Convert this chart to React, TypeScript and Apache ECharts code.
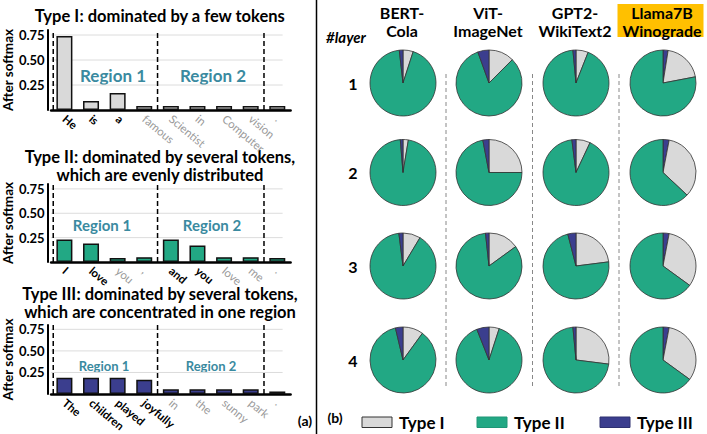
import React, { useEffect, useRef } from 'react';
import * as echarts from 'echarts';

const FONT = 'Lato, "Open Sans", sans-serif';

// ---------- Panel (a): attention distribution examples ----------
const tokens1 = ['He', 'is', 'a', 'famous', 'Scientist', 'in', 'Computer', 'vision', '.'];
const values1 = [0.74, 0.09, 0.17, 0.04, 0.04, 0.04, 0.04, 0.04, 0.04];
const dominant1 = [true, true, true, false, false, false, false, false, false];

const tokens2 = ['I', 'love', 'you', ',', 'and', 'you', 'love', 'me', '.'];
const values2 = [0.23, 0.19, 0.04, 0.05, 0.23, 0.17, 0.05, 0.05, 0.04];
const dominant2 = [true, true, false, false, true, true, false, false, false];

const tokens3 = ['The', 'children', 'played', 'joyfully', 'in', 'the', 'sunny', 'park', '.'];
const values3 = [0.19, 0.19, 0.19, 0.165, 0.055, 0.055, 0.055, 0.055, 0.03];
const dominant3 = [true, true, true, true, false, false, false, false, false];

const yTicks = [0.25, 0.5, 0.75];
const regionBoundaries = [-0.42, 3.5, 7.5];
const regionNames = ['Region 1', 'Region 2'];

const titleTypes = ['Type I', 'Type II', 'Type III'];
const titleRest = [
  ': dominated by a few tokens',
  ': dominated by several tokens,\nwhich are evenly distributed',
  ': dominated by several tokens,\nwhich are concentrated in one region',
];

// ---------- Panel (b): share of each type per layer ----------
const models = ['BERT-\nCola', 'ViT-\nImageNet', 'GPT2-\nWikiText2', 'Llama7B\nWinograde'];
const layers = ['1', '2', '3', '4'];
const typeNames = ['Type I', 'Type II', 'Type III'];

// values in % per layer 1..4
const bertTypeI = [5, 2.6, 8.6, 10];
const bertTypeII = [93.2, 96.1, 89.4, 86.3];
const bertTypeIII = [1.8, 1.3, 2, 3.7];

const vitTypeI = [12.5, 25, 15, 5];
const vitTypeII = [82, 72, 83.3, 89];
const vitTypeIII = [5.5, 3, 1.7, 6];

const gptTypeI = [6, 7, 23, 27];
const gptTypeII = [92.5, 91, 73, 71.5];
const gptTypeIII = [1.5, 2, 4, 1.5];

const llamaTypeI = [19.5, 34, 32, 32];
const llamaTypeII = [78, 63, 65, 65];
const llamaTypeIII = [2.5, 3, 3, 3];

const modelData = [
  [bertTypeI, bertTypeII, bertTypeIII],
  [vitTypeI, vitTypeII, vitTypeIII],
  [gptTypeI, gptTypeII, gptTypeIII],
  [llamaTypeI, llamaTypeII, llamaTypeIII],
];

// ---------- styles / layout ----------
const typeColors = ['#D9D9D9', '#22A884', '#3B3E8E'];
const typeBorders = ['#333333', '#1E9676', '#2E3170'];
const sliceOrder = [[0, 1, 2], [0, 1, 2], [0, 1, 2], [2, 0, 1]];

const gridTops = [30, 184, 325];
const gridHeights = [80, 78, 77];
const gridLeft = 49.6;
const gridWidth = 241;
const regionFont = [17, 15, 13];
const regionPos = [
  [[113, 75], [213, 75]],
  [[102, 225], [212, 225]],
  [[104, 366], [211, 366]],
];
const titleCenters = [[160, 16], [160, 165.5], [160, 303]];

const pieX = [403, 489, 576, 663];
const pieY = [83, 172.5, 266, 360];
const pieR = 33;

export default function App() {
  const ref = useRef<HTMLDivElement>(null);

  useEffect(() => {
    document.body.style.margin = '0';
    if (!ref.current) return;
    const chart = echarts.init(ref.current, undefined, { renderer: 'svg' });

    const barSets = [
      { tokens: tokens1, values: values1, dominant: dominant1, color: typeColors[0] },
      { tokens: tokens2, values: values2, dominant: dominant2, color: typeColors[1] },
      { tokens: tokens3, values: values3, dominant: dominant3, color: typeColors[2] },
    ];

    const grid: any[] = [];
    const xAxis: any[] = [];
    const yAxis: any[] = [];
    const series: any[] = [];

    barSets.forEach((set, gi) => {
      grid.push({ left: gridLeft, width: gridWidth, top: gridTops[gi], height: gridHeights[gi] });
      xAxis.push({
        type: 'category',
        gridIndex: gi,
        data: set.tokens,
        axisLine: { onZero: false, lineStyle: { color: '#000', width: 2.5 } },
        axisTick: { show: false },
        axisLabel: {
          interval: 0,
          rotate: -40,
          margin: 7,
          formatter: (v: string, i: number) => (set.dominant[i] ? `{b|${v}}` : `{g|${v}}`),
          rich: {
            b: { fontFamily: FONT, fontWeight: 'bold', color: '#000', fontSize: 11.5 },
            g: { fontFamily: FONT, color: '#9a9a9a', fontSize: 11.5 },
          },
        },
      });
      xAxis.push({ type: 'value', gridIndex: gi, min: -0.5, max: 8.5, show: false, axisLine: { onZero: false } });
      yAxis.push({
        type: 'value',
        gridIndex: gi,
        min: 0,
        max: 0.8,
        interval: 0.25,
        offset: 3.5,
        name: 'After softmax',
        nameLocation: 'middle',
        nameGap: 30,
        nameTextStyle: { fontFamily: FONT, fontWeight: 'bold', fontSize: 13.5, color: '#000' },
        axisLine: { show: true, onZero: false, lineStyle: { color: '#000', width: 2 } },
        axisTick: { show: false },
        splitLine: { show: false },
        axisLabel: {
          margin: 3,
          fontFamily: FONT,
          fontWeight: 'bold',
          fontSize: 13,
          color: '#000',
          formatter: (v: number) => (yTicks.some((t) => Math.abs(t - v) < 1e-6) ? v.toFixed(2) : ''),
        },
      });
      // gridlines
      series.push({
        type: 'custom',
        xAxisIndex: gi * 2 + 1,
        yAxisIndex: gi,
        silent: true,
        z: 1,
        data: yTicks.map((v) => [-0.5, v]),
        encode: { x: 0, y: 1 },
        renderItem: (_p: any, api: any) => {
          const v = api.value(1);
          const a = api.coord([-0.5, v]);
          const b = api.coord([8.2, v]);
          return {
            type: 'line',
            shape: { x1: a[0], y1: a[1], x2: b[0], y2: b[1] },
            style: { stroke: '#dcdcdc', lineWidth: 1 },
          };
        },
      });
      // bars
      series.push({
        type: 'bar',
        xAxisIndex: gi * 2,
        yAxisIndex: gi,
        data: set.values,
        barWidth: 16,
        z: 3,
        silent: true,
        itemStyle: { color: set.color, borderColor: '#111', borderWidth: 1.5 },
      });
      // region boundaries
      series.push({
        type: 'custom',
        xAxisIndex: gi * 2 + 1,
        yAxisIndex: gi,
        silent: true,
        z: 5,
        data: regionBoundaries.map((v) => [v, 0]),
        encode: { x: 0, y: 1 },
        renderItem: (_p: any, api: any) => {
          const x = api.value(0);
          const a = api.coord([x, 0]);
          const b = api.coord([x, 0.8]);
          return {
            type: 'line',
            shape: { x1: a[0], y1: a[1], x2: b[0], y2: b[1] },
            style: { stroke: '#000', lineWidth: 1.5, lineDash: [5, 3] },
          };
        },
      });
    });

    // pies
    modelData.forEach((md, mi) => {
      layers.forEach((_, li) => {
        series.push({
          type: 'pie',
          center: [pieX[mi], pieY[li]],
          radius: pieR,
          startAngle: 90,
          clockwise: true,
          silent: true,
          label: { show: false },
          labelLine: { show: false },
          itemStyle: { borderColor: '#333', borderWidth: 0.8 },
          data: sliceOrder[mi].map((t) => ({
            name: typeNames[t],
            value: md[t][li],
            itemStyle: { color: typeColors[t] },
          })),
        });
      });
    });

    const graphic: any[] = [];
    // titles
    titleTypes.forEach((t, i) => {
      const rest = titleRest[i].split('\n');
      let text = `{r|${t}}{k|${rest[0]}}`;
      for (let j = 1; j < rest.length; j++) text += `\n{k|${rest[j]}}`;
      graphic.push({
        type: 'text',
        x: titleCenters[i][0],
        y: titleCenters[i][1],
        style: {
          text,
          align: 'center',
          verticalAlign: 'middle',
          rich: {
            r: { fontFamily: FONT, fontWeight: 'bold', fontSize: 16.5, color: '#FF0000', lineHeight: 18 },
            k: { fontFamily: FONT, fontWeight: 'bold', fontSize: 16.5, color: '#000', lineHeight: 18 },
          },
        },
      });
    });
    // region labels
    regionPos.forEach((rp, gi) => {
      rp.forEach((p, ri) => {
        graphic.push({
          type: 'text',
          x: p[0],
          y: p[1],
          style: {
            text: regionNames[ri],
            fontFamily: FONT,
            fontWeight: 'bold',
            fontSize: regionFont[gi],
            fill: '#3A8AA0',
            align: 'center',
            verticalAlign: 'middle',
          },
        });
      });
    });
    graphic.push({
      type: 'text', x: 305, y: 420,
      style: { text: '(a)', fontFamily: FONT, fontWeight: 'bold', fontSize: 14, fill: '#000', align: 'center', verticalAlign: 'middle' },
    });
    // panel divider
    graphic.push({ type: 'line', shape: { x1: 316.5, y1: 0, x2: 316.5, y2: 434 }, style: { stroke: '#000', lineWidth: 1.5 } });

    // headers
    graphic.push({ type: 'rect', shape: { x: 617.5, y: 4, width: 86, height: 33 }, style: { fill: '#FFC000' }, z: 0 });
    models.forEach((m, mi) => {
      graphic.push({
        type: 'text',
        x: pieX[mi] - 1,
        y: 21.7,
        z: 2,
        style: {
          text: m,
          fontFamily: FONT,
          fontWeight: 'bold',
          fontSize: 16,
          lineHeight: 18.5,
          fill: '#000',
          align: 'center',
          verticalAlign: 'middle',
        },
      });
    });
    graphic.push({
      type: 'text', x: 346, y: 37,
      style: { text: '#layer', fontFamily: FONT, fontWeight: 'bold', fontStyle: 'italic', fontSize: 15, fill: '#000', align: 'center', verticalAlign: 'middle' },
    });
    layers.forEach((l, li) => {
      graphic.push({
        type: 'text', x: 353, y: pieY[li],
        style: { text: l, fontFamily: FONT, fontWeight: 'bold', fontSize: 16, fill: '#000', align: 'center', verticalAlign: 'middle' },
      });
    });
    // column dividers
    [446, 532.5, 619].forEach((x) => {
      graphic.push({
        type: 'line',
        shape: { x1: x, y1: 74, x2: x, y2: 388 },
        style: { stroke: '#888', lineWidth: 1, lineDash: [4, 3] },
      });
    });
    // legend
    graphic.push({
      type: 'text', x: 335, y: 417,
      style: { text: '(b)', fontFamily: FONT, fontWeight: 'bold', fontSize: 14, fill: '#000', align: 'center', verticalAlign: 'middle' },
    });
    const legendX = [362, 477, 600];
    typeNames.forEach((n, i) => {
      graphic.push({
        type: 'rect',
        shape: { x: legendX[i], y: 417, width: 30, height: 10.5 },
        style: { fill: typeColors[i], stroke: typeBorders[i], lineWidth: 1 },
      });
      graphic.push({
        type: 'text', x: legendX[i] + 37, y: 422.5,
        style: { text: n, fontFamily: FONT, fontWeight: 'bold', fontSize: 17, fill: '#000', align: 'left', verticalAlign: 'middle' },
      });
    });

    chart.setOption({
      animation: false,
      textStyle: { fontFamily: FONT },
      grid,
      xAxis,
      yAxis,
      series,
      graphic,
    });

    return () => chart.dispose();
  }, []);

  return <div ref={ref} style={{ width: 707, height: 434 }} />;
}
